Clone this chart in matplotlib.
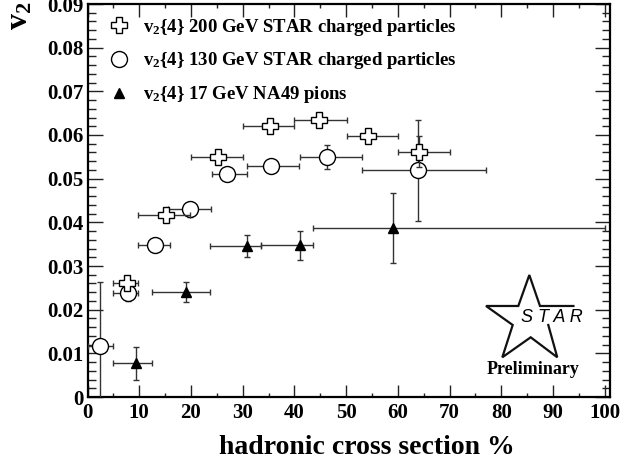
import numpy as np
import matplotlib.pyplot as plt
from matplotlib.lines import Line2D
from matplotlib.ticker import MultipleLocator

plt.rcParams['font.family'] = 'Liberation Serif'
plt.rcParams['font.weight'] = 'bold'
plt.rcParams['mathtext.fontset'] = 'custom'
plt.rcParams['mathtext.rm'] = 'Liberation Serif:bold'
plt.rcParams['mathtext.default'] = 'rm'

# v2{4} 200 GeV STAR charged particles
x200 = [7.6, 15.1, 25.3, 35.3, 44.8, 54.3, 64.1]
x200_lo = [4.9, 9.8, 20.0, 30.0, 40.0, 50.1, 60.0]
x200_hi = [9.8, 19.8, 30.0, 40.0, 50.1, 60.0, 70.1]
v200 = [0.0260, 0.0416, 0.0549, 0.0621, 0.0635, 0.0598, 0.0562]
v200_err = [0.0008, 0.0008, 0.0008, 0.0008, 0.0008, 0.0010, 0.0035]

# v2{4} 130 GeV STAR charged particles
x130 = [2.4, 7.9, 13.05, 19.8, 26.9, 35.4, 46.3, 63.8]
x130_lo = [0.0, 4.9, 9.8, 15.6, 24.0, 30.9, 41.1, 53.0]
x130_hi = [4.9, 9.8, 16.0, 23.9, 30.9, 40.9, 53.0, 77.1]
v130 = [0.0117, 0.0239, 0.0348, 0.0430, 0.0510, 0.0529, 0.0549, 0.0519]
v130_err = [0.0147, 0.0020, 0.0008, 0.0017, 0.0008, 0.0008, 0.0028, 0.0115]

# v2{4} 17 GeV NA49 pions
x17 = [9.3, 19.0, 30.9, 41.0, 59.0]
x17_lo = [5.0, 12.4, 23.6, 33.5, 43.5]
x17_hi = [12.4, 23.6, 33.5, 43.5, 100.1]
v17 = [0.0077, 0.0241, 0.0346, 0.0347, 0.0387]
v17_err = [0.0037, 0.0023, 0.0026, 0.0034, 0.0080]

labels = ['v$_2${4} 200 GeV STAR charged particles',
          'v$_2${4} 130 GeV STAR charged particles',
          'v$_2${4} 17 GeV NA49 pions']


def xerr(x, lo, hi):
    x = np.array(x)
    return [x - np.array(lo), np.array(hi) - x]


W, H = 623, 465
fig = plt.figure(figsize=(W / 100, H / 100), dpi=100)
ax = fig.add_axes([87.5 / W, 68 / H, 522.5 / W, 393 / H])

ecol = '#333333'
ax.errorbar(x17, v17, xerr=xerr(x17, x17_lo, x17_hi), yerr=v17_err, fmt='^',
            ms=6.5, color='black', ecolor=ecol, elinewidth=1.0, capsize=2.5, zorder=3)
ax.errorbar(x130, v130, xerr=xerr(x130, x130_lo, x130_hi), yerr=v130_err, fmt='o',
            ms=11.5, mfc='white', mec='black', mew=1.0, ecolor=ecol, elinewidth=1.0,
            capsize=2.5, zorder=4)
ax.errorbar(x200, v200, xerr=xerr(x200, x200_lo, x200_hi), yerr=v200_err, fmt='P',
            ms=12, mfc='white', mec='black', mew=1.0, ecolor=ecol, elinewidth=1.0,
            capsize=2.5, zorder=5)

ax.set_xlim(0, 101)
ax.set_ylim(0, 0.09)
ax.xaxis.set_major_locator(MultipleLocator(10))
ax.xaxis.set_minor_locator(MultipleLocator(5))
ax.yaxis.set_major_locator(MultipleLocator(0.01))
ax.yaxis.set_minor_locator(MultipleLocator(0.002))
ax.yaxis.set_major_formatter(plt.FuncFormatter(lambda v, p: '0' if abs(v) < 1e-9 else '%.2f' % v))

ax.tick_params(which='both', direction='in', top=True, right=True, width=1.0,
               labelsize=15, color='#222222')
ax.tick_params(axis='x', which='major', length=5, pad=4)
ax.tick_params(axis='x', which='minor', length=3)
ax.tick_params(axis='y', which='major', length=11, pad=3)
ax.tick_params(axis='y', which='minor', length=5.5)
for t in ax.xaxis.get_major_ticks():
    if round(t.get_loc()) % 20 == 0:
        t.tick1line.set_markersize(9)
        t.tick2line.set_markersize(9)
for s in ax.spines.values():
    s.set_linewidth(1.6)

# legend
handles = [Line2D([], [], ls='none', marker='P', ms=12, mfc='white', mec='black', mew=1.0),
           Line2D([], [], ls='none', marker='o', ms=11.5, mfc='white', mec='black', mew=1.0),
           Line2D([], [], ls='none', marker='^', ms=6.5, color='black')]
ax.legend(handles, labels, loc='upper left', bbox_to_anchor=(0.003, 1.006), frameon=False,
          fontsize=13.5, handletextpad=0.5, labelspacing=0.68, borderaxespad=0.4,
          handlelength=1.6)

# axis titles
fig.text(367 / W, 1 - 447 / H, 'hadronic cross section %', fontsize=20,
         ha='center', va='center')
fig.text(20 / W, 1 - 16 / H, 'v$_2$', fontsize=23, rotation=90,
         ha='center', va='center')

# STAR Preliminary logo
star = np.array([[0.930, 0.2316], [0.866, 0.2316], [0.8456, 0.3104], [0.8245, 0.2316],
                 [0.7627, 0.2316], [0.8138, 0.1832], [0.7939, 0.1010], [0.8482, 0.1519],
                 [0.8991, 0.1010], [0.8819, 0.1832]])
ax.plot(star[:, 0], star[:, 1], color='#111111', lw=1.6, transform=ax.transAxes,
        solid_joinstyle='miter', zorder=2)
ax.text(0.888, 0.203, 'S T A R', transform=ax.transAxes, fontsize=13,
        family='Liberation Sans', style='italic', weight='normal',
        ha='center', va='center')
ax.text(0.852, 0.0705, 'Preliminary', transform=ax.transAxes, fontsize=13,
        ha='center', va='center')

fig.savefig('out.png', dpi=100)
